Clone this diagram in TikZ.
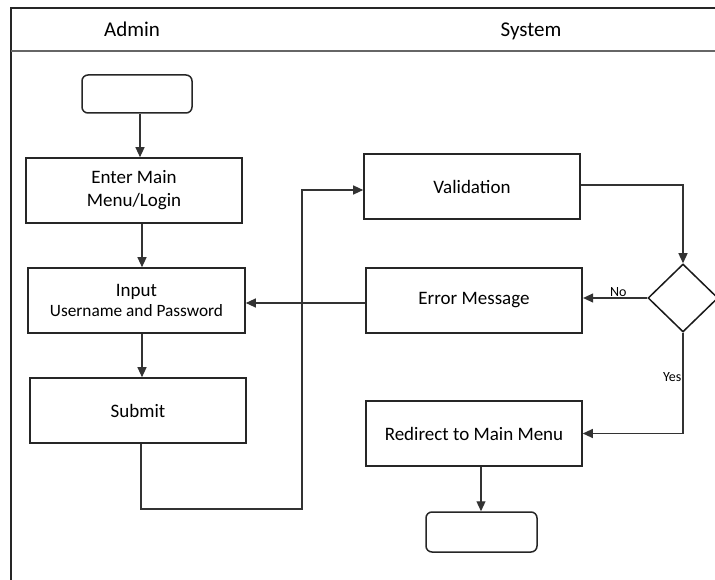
\documentclass[tikz,border=0pt]{standalone}
\usepackage{fontspec}
\setmainfont{Carlito}
\usetikzlibrary{arrows.meta,shapes.geometric}
\begin{document}
\begin{tikzpicture}[x=1pt,y=-1pt,
  box/.style={draw=black!85,line width=1.6pt,rectangle,minimum width=216pt,minimum height=65pt,inner sep=0pt,align=center,font=\fontsize{19}{23}\selectfont},
  term/.style={draw=black!85,line width=1.5pt,rectangle,rounded corners=6pt,inner sep=0pt},
  dec/.style={draw=black!90,line width=1.5pt,diamond,minimum width=70pt,minimum height=68pt,inner sep=0pt},
  conn/.style={draw=black!80,line width=1.2pt},
  arr/.style={conn,-{Triangle[length=10pt,width=9pt]}},
  lbl/.style={font=\fontsize{14}{16}\selectfont,inner sep=1pt},
  hdr/.style={font=\fontsize{21}{24}\selectfont,anchor=base}]
\useasboundingbox (0,0) rectangle (715,580);
\fill[white] (0,0) rectangle (715,580);
% frame
\draw[black!85,line width=1.8pt] (11,580) -- (11,8) -- (715,8);
\draw[black!60,line width=1.8pt] (11,51) -- (715,51);
\node[hdr] (hA) at (132,37) {Admin};
\node[hdr] (hS) at (531,37) {System};
% nodes
\node[term,minimum width=110pt,minimum height=38pt] (start) at (137,94) {};
\node[box] (enter) at (134,190.5) {Enter Main\\Menu/Login};
\node[box,minimum width=217pt] (input) at (136.5,300.5) {Input\\[-3pt]{\fontsize{17.3}{20}\selectfont Username and Password}};
\node[box] (submit) at (138,410.5) {Submit};
\node[box] (valid) at (472,186.5) {Validation};
\node[box,line width=2.2pt] (error) at (474,300.5) {Error Message};
\node[box] (redir) at (474,433.5) {Redirect to Main Menu};
\node[term,minimum width=111pt,minimum height=40pt] (endn) at (481.5,532) {};
\node[dec] (d) at (683,298) {};
% connectors
\draw[arr] (start.south -| 140,0) -- (enter.north -| 140,0);
\draw[arr] (enter.south -| 142,0) -- (input.north -| 142,0);
\draw[arr] (input.south -| 142,0) -- (submit.north -| 142,0);
\coordinate (c1) at (302,509);
\draw[arr] (submit.south -| 141,0) |- (c1) |- (valid.west |- 0,190);
\draw[arr] (valid.east |- 0,185) -| (d.north);
\draw[arr] (d.west) -- (d.west -| error.east) node[lbl,pos=0.45,above] (no) {No};
\draw[arr] (error.west |- 0,303) -- (input.east |- 0,303);
\draw[arr] (d.south) |- (redir.east) node[lbl,pos=0.22,left] (yes) {Yes};
\draw[arr] (redir.south -| 481,0) -- (endn.north -| 481,0);
\end{tikzpicture}
\end{document}
